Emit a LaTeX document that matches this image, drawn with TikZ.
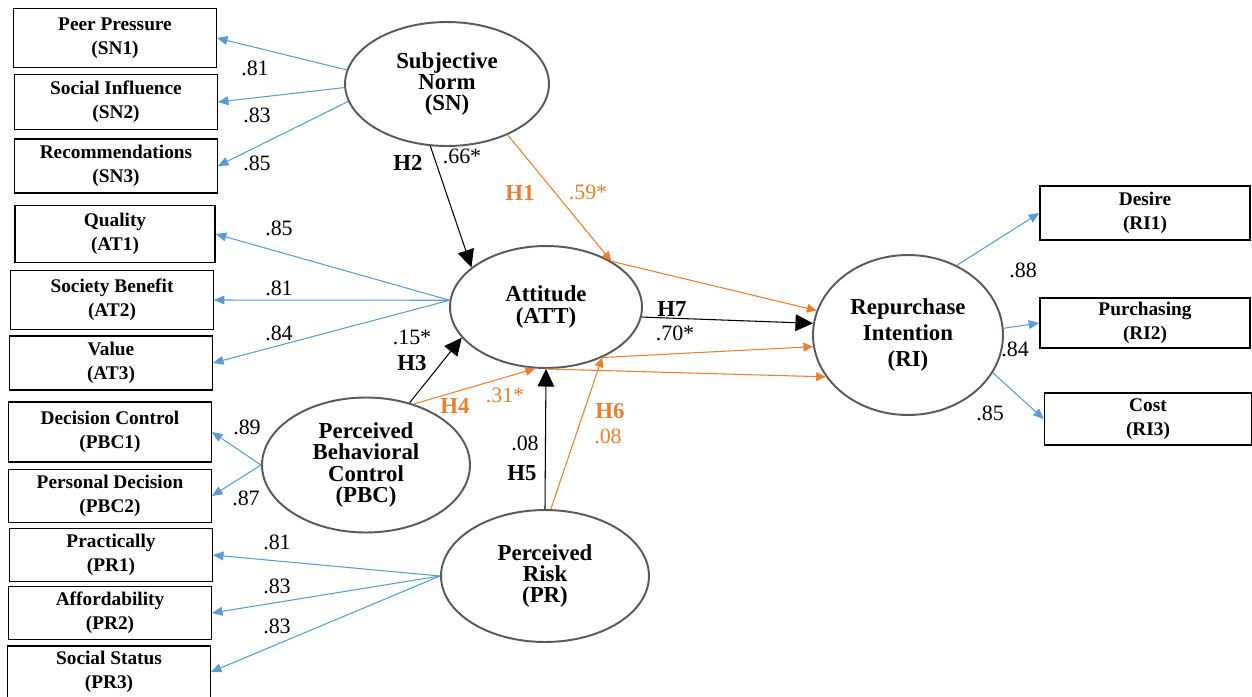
\documentclass[tikz,border=0pt]{standalone}
\usepackage{fontspec}
\setmainfont{Liberation Serif}
\usepackage{tikz}
\usetikzlibrary{shapes.geometric,arrows.meta,positioning}
\definecolor{loadblue}{RGB}{91,155,213}
\definecolor{pathorange}{RGB}{237,125,49}
\definecolor{rimgray}{RGB}{89,89,89}

\begin{document}
\begin{tikzpicture}[x=0.02cm,y=-0.02cm,
  construct/.style={ellipse,draw=rimgray,line width=1.1pt,inner sep=0pt,align=center,
    font=\fontsize{13}{12}\selectfont\bfseries},
  item/.style={rectangle,draw,line width=0.8pt,minimum width=4.05cm,minimum height=1.1cm,
    inner sep=0pt,align=center,font=\fontsize{11}{13.6}\selectfont\bfseries},
  load/.style={color=loadblue,line width=0.6pt,-{Triangle[length=6pt,width=5pt]}},
  hyp/.style={color=black,line width=0.6pt,-{Triangle[length=10pt,width=9.5pt]}},
  med/.style={color=pathorange,line width=0.6pt,-{Triangle[length=5.5pt,width=5pt]}},
  coef/.style={inner sep=0pt,font=\fontsize{12.5}{13}\selectfont},
  hlab/.style={inner sep=0pt,font=\fontsize{13}{13}\selectfont\bfseries}]
  \useasboundingbox (0,0) rectangle (1252,697);

  \node[construct,minimum width=4.08cm,minimum height=2.48cm] (SN) at (447,84) {Subjective\\Norm\\(SN)};
  \node[construct,minimum width=3.84cm,minimum height=2.44cm] (ATT) at (546,307) {Attitude\\(ATT)};
  \node[construct,minimum width=4.16cm,minimum height=2.7cm] (PBC) at (366,465) {Perceived\\Behavioral\\Control\\(PBC)};
  \node[construct,minimum width=4.16cm,minimum height=2.64cm] (PR) at (545,576) {Perceived\\Risk\\(PR)};
  \node[construct,minimum width=3.8cm,minimum height=3.2cm,font=\fontsize{13}{15}\selectfont\bfseries] (RI) at (908,335) {Repurchase\\Intention\\(RI)};

  \node[item,minimum height=1.18cm] (SN1) at (115,38) {Peer Pressure\\(SN1)};
  \node[item] (SN2) at (116,102) {Social Influence\\(SN2)};
  \node[item,minimum height=1.08cm] (SN3) at (116,166) {Recommendations\\(SN3)};
  \node[item,minimum width=4cm,minimum height=1.14cm] (AT1) at (115,234) {Quality\\(AT1)};
  \node[item,minimum height=1.18cm] (AT2) at (112,300) {Society Benefit\\(AT2)};
  \node[item,minimum height=1.08cm] (AT3) at (111,363) {Value\\(AT3)};
  \node[item,minimum height=1.2cm] (PBC1) at (110,432) {Decision Control\\(PBC1)};
  \node[item,minimum height=1.06cm] (PBC2) at (110,496) {Personal Decision\\(PBC2)};
  \node[item,minimum height=1.06cm] (PR1) at (111,555) {Practically\\(PR1)};
  \node[item,minimum height=1.06cm] (PR2) at (110,613) {Affordability\\(PR2)};
  \node[item,minimum height=1.04cm] (PR3) at (109,672) {Social Status\\(PR3)};
  \node[item,minimum width=4.2cm,minimum height=1.08cm] (RI1) at (1145,213) {Desire\\(RI1)};
  \node[item,minimum width=4.2cm,minimum height=1cm] (RI2) at (1145,323) {Purchasing\\(RI2)};
  \node[item,minimum width=4.14cm,minimum height=1.04cm] (RI3) at (1148,419) {Cost\\(RI3)};

  \path[load]
  (SN.172) edge (SN1.east)
  (SN.182) edge (SN2.east)
  (SN.190) edge (SN3.east)
  (ATT.176) edge (AT1.east)
  (ATT.176) edge (AT2.east)
  (ATT.176) edge (AT3.east)
  (PBC.west) edge (PBC1.east)
  (PBC.west) edge (PBC2.east)
  (PR.west) edge (PR1.east)
  (PR.west) edge (PR2.east)
  (PR.west) edge (PR3.east)
  (RI.55) edge (RI1.west)
  (RI.4) edge (RI2.west)
  (RI.-24) edge (RI3.west)
  ;
  \path[med]
  (SN.-40) edge (ATT.35)
  (ATT.35) edge (RI.165)
  (PBC.52) edge (ATT.-100)
  (ATT.south) edge (RI.207)
  (PR.85) edge (ATT.-42)
  (ATT.-42) edge (RI.187)
  ;
  \path[hyp]
  (SN.-105) edge (ATT.152)
  (PBC.55) edge (ATT.200)
  (PR.north) edge (ATT.south)
  (ATT.-6) edge (RI.173)
  ;

  \node[coef] (wSN1) at (255,68) {.81};
  \node[coef] (wSN2) at (257,115) {.83};
  \node[coef] (wSN3) at (257,163) {.85};
  \node[coef] (wAT1) at (279,228) {.85};
  \node[coef] (wAT2) at (279,288) {.81};
  \node[coef] (wAT3) at (279,333) {.84};
  \node[coef] (wPBC1) at (247,427) {.89};
  \node[coef] (wPBC2) at (246,498) {.87};
  \node[coef] (wPR1) at (277,542) {.81};
  \node[coef] (wPR2) at (277,586) {.83};
  \node[coef] (wPR3) at (277,626) {.83};
  \node[coef] (wRI1) at (1023,270) {.88};
  \node[coef] (wRI2) at (1015,349) {.84};
  \node[coef] (wRI3) at (990,413) {.85};

  \node[hlab] (h2) at (408,163) {H2};
  \node[coef] (b2) at (462,156) {.66*};
  \node[hlab,text=pathorange] (h1) at (520,193) {H1};
  \node[coef,text=pathorange] (b1) at (588,192) {.59*};
  \node[hlab] (h7) at (672,309) {H7};
  \node[coef] (b7) at (675,333) {.70*};
  \node[coef] (b3) at (412,337) {.15*};
  \node[hlab] (h3) at (412,363) {H3};
  \node[hlab,text=pathorange] (h4) at (455,406) {H4};
  \node[coef,text=pathorange] (b4) at (505,395) {.31*};
  \node[coef] (b5) at (525,443) {.08};
  \node[hlab] (h5) at (522,473) {H5};
  \node[hlab,text=pathorange] (h6) at (610,411) {H6};
  \node[coef,text=pathorange] (b6) at (608,436) {.08};
\end{tikzpicture}
\end{document}
